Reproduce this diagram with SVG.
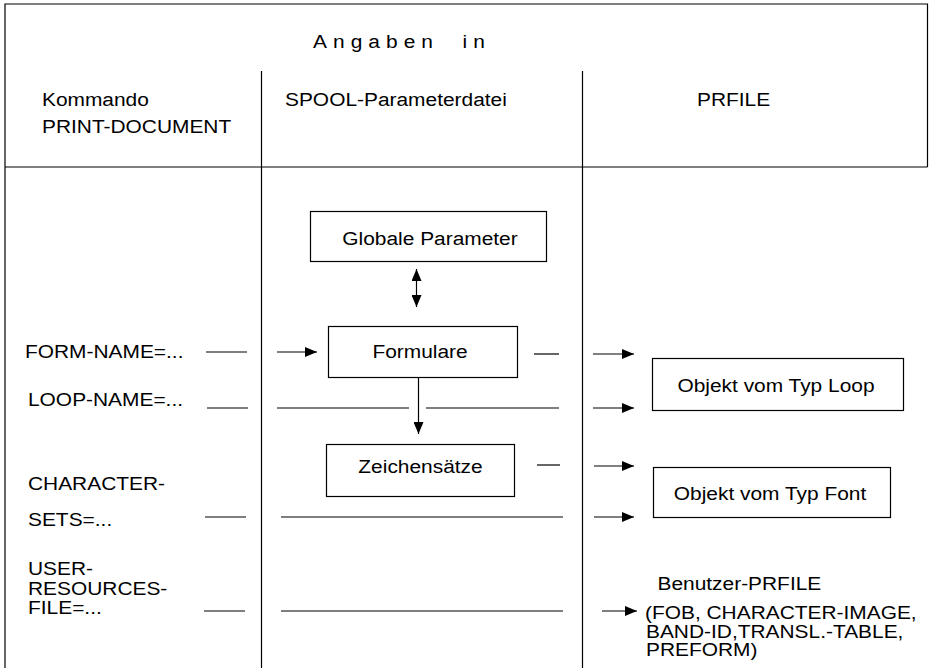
<svg xmlns="http://www.w3.org/2000/svg" width="934" height="668" viewBox="0 0 934 668">
  <style>
    text { font-family: "Liberation Sans", Arial, Helvetica, sans-serif; font-size: 19px; fill: #000; }
    .mid { text-anchor: middle; }
    .frame, .rule, .box, .conn { stroke: #000; stroke-width: 1.2; fill: none; }
    .box { fill: #fff; }
  </style>
  <defs>
    <marker id="head" viewBox="0 0 12 10" refX="12" refY="5" markerWidth="12" markerHeight="10" markerUnits="userSpaceOnUse" orient="auto-start-reverse">
      <path d="M0,0 L12,5 L0,10 Z" fill="#000"/>
    </marker>
  </defs>

  <rect width="934" height="668" fill="#fff"/>

  <!-- table frame and column rules -->
  <g id="table">
    <path class="frame" d="M5,668 V4 H927.5 V167"/>
    <line class="rule" x1="5" y1="167" x2="927.5" y2="167"/>
    <line class="rule" x1="261.5" y1="71" x2="261.5" y2="668"/>
    <line class="rule" x1="582.5" y1="71" x2="582.5" y2="668"/>
  </g>

  <!-- column headings (type is set slightly wide: scale 1.1 horizontally) -->
  <g id="heading">
    <text transform="translate(313 48) scale(1.1 1)" letter-spacing="5.5">Angaben <tspan x="136">in</tspan></text>
    <text transform="translate(42 106) scale(1.1 1)">Kommando</text>
    <text transform="translate(42 133) scale(1.1 1)">PRINT-DOCUMENT</text>
    <text transform="translate(285 106) scale(1.1 1)">SPOOL-Parameterdatei</text>
    <text transform="translate(697 106) scale(1.1 1)">PRFILE</text>
  </g>

  <!-- command operands -->
  <g id="operands">
    <text transform="translate(25 358) scale(1.1 1)">FORM-NAME=...</text>
    <text transform="translate(28 406) scale(1.1 1)">LOOP-NAME=...</text>
    <text transform="translate(28 490) scale(1.1 1)">CHARACTER-</text>
    <text transform="translate(28 526) scale(1.1 1)">SETS=...</text>
    <text transform="translate(28 575) scale(1.1 1)">USER-</text>
    <text transform="translate(28 595) scale(1.1 1)">RESOURCES-</text>
    <text transform="translate(28 614) scale(1.1 1)">FILE=...</text>
  </g>

  <!-- SPOOL parameter file entries -->
  <g id="globale-parameter">
    <rect class="box" x="310.5" y="211.5" width="236" height="50"/>
    <text class="mid" transform="translate(430 245) scale(1.1 1)">Globale Parameter</text>
  </g>
  <g id="formulare">
    <rect class="box" x="328.5" y="326.5" width="189" height="51"/>
    <text class="mid" transform="translate(420 358) scale(1.1 1)">Formulare</text>
  </g>
  <g id="zeichensaetze">
    <rect class="box" x="326.5" y="444.5" width="188" height="52"/>
    <text class="mid" transform="translate(420.5 473) scale(1.1 1)">Zeichensätze</text>
  </g>

  <!-- PRFILE objects -->
  <g id="objekt-loop">
    <rect class="box" x="652.5" y="358.5" width="251" height="52"/>
    <text class="mid" transform="translate(776 392) scale(1.1 1)">Objekt vom Typ Loop</text>
  </g>
  <g id="objekt-font">
    <rect class="box" x="653.5" y="467.5" width="237" height="50"/>
    <text class="mid" transform="translate(770 500) scale(1.1 1)">Objekt vom Typ Font</text>
  </g>
  <g id="benutzer-prfile">
    <text transform="translate(657.5 590) scale(1.1 1)">Benutzer-PRFILE</text>
    <text transform="translate(645 619) scale(1.1 1)">(FOB, CHARACTER-IMAGE,</text>
    <text transform="translate(646 637.5) scale(1.1 1)">BAND-ID,TRANSL.-TABLE,</text>
    <text transform="translate(646 656) scale(1.1 1)">PREFORM)</text>
  </g>

  <!-- connectors -->
  <g id="connectors">
    <line class="conn" x1="416.5" y1="269" x2="416.5" y2="307" marker-start="url(#head)" marker-end="url(#head)"/>
    <line class="conn" x1="418.5" y1="377.5" x2="418.5" y2="434" marker-end="url(#head)"/>

    <line class="conn" x1="206" y1="352" x2="247" y2="352"/>
    <line class="conn" x1="277" y1="352" x2="317" y2="352" marker-end="url(#head)"/>
    <line class="conn" x1="534" y1="354" x2="559" y2="354"/>
    <line class="conn" x1="593" y1="354" x2="634" y2="354" marker-end="url(#head)"/>

    <line class="conn" x1="207" y1="408" x2="248" y2="408"/>
    <line class="conn" x1="277" y1="408" x2="409" y2="408"/>
    <line class="conn" x1="426" y1="408" x2="559" y2="408"/>
    <line class="conn" x1="593" y1="408" x2="634" y2="408" marker-end="url(#head)"/>

    <line class="conn" x1="537" y1="465" x2="560" y2="465"/>
    <line class="conn" x1="594" y1="466" x2="634" y2="466" marker-end="url(#head)"/>

    <line class="conn" x1="205" y1="517" x2="246" y2="517"/>
    <line class="conn" x1="281" y1="517" x2="563" y2="517"/>
    <line class="conn" x1="594" y1="517" x2="634" y2="517" marker-end="url(#head)"/>

    <line class="conn" x1="204" y1="611" x2="245" y2="611"/>
    <line class="conn" x1="281" y1="611" x2="563" y2="611"/>
    <line class="conn" x1="602" y1="611" x2="637" y2="611" marker-end="url(#head)"/>
  </g>
</svg>
